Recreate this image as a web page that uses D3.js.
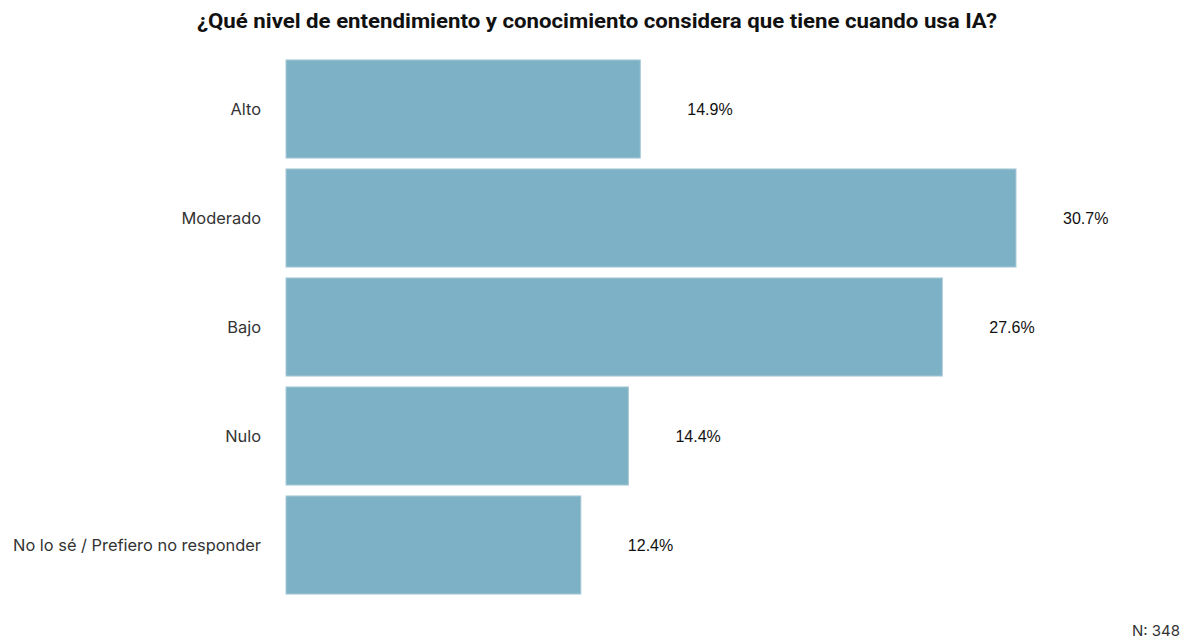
<!DOCTYPE html>
<html>
<head>
<meta charset="utf-8">
<script src="https://cdn.jsdelivr.net/npm/d3@7"></script>
<style>
  body { margin: 0; background: #fff; }
  svg { display: block; }
</style>
</head>
<body>
<div id="chart"></div>
<script>
const categories = ["Alto", "Moderado", "Bajo", "Nulo", "No lo sé / Prefiero no responder"];
const values = [14.9, 30.7, 27.6, 14.4, 12.4];
const sampleSize = 348;

const width = 1186;
const height = 640;

const svg = d3.select("#chart")
  .append("svg")
  .attr("width", width)
  .attr("height", height);

const x = d3.scaleLinear().domain([0, 30.7]).range([286, 1016]);
const y = d3.scaleBand()
  .domain(categories)
  .range([54.5, 599.5])
  .paddingInner(0.1)
  .paddingOuter(0.05);

svg.append("text")
  .attr("x", 597)
  .attr("y", 28)
  .attr("text-anchor", "middle")
  .attr("textLength", 800)
  .attr("lengthAdjust", "spacingAndGlyphs")
  .style("font-family", "Roboto, sans-serif")
  .style("font-weight", "bold")
  .style("font-size", "21px")
  .style("fill", "#111")
  .text("¿Qué nivel de entendimiento y conocimiento considera que tiene cuando usa IA?");

svg.selectAll("rect")
  .data(values)
  .enter()
  .append("rect")
  .attr("x", x(0))
  .attr("y", (d, i) => y(categories[i]))
  .attr("width", (d) => x(d) - x(0))
  .attr("height", y.bandwidth())
  .attr("fill", "#7db1c6")
  .attr("stroke", "#a9cbd8")
  .attr("stroke-width", 1);

svg.selectAll(".cat")
  .data(categories)
  .enter()
  .append("text")
  .attr("class", "cat")
  .attr("x", 261)
  .attr("y", (d) => y(d) + y.bandwidth() / 2)
  .attr("dy", "0.35em")
  .attr("text-anchor", "end")
  .style("font-family", "Inter, sans-serif")
  .style("font-size", "16.4px")
  .style("fill", "#333")
  .text((d) => d);

svg.selectAll(".val")
  .data(values)
  .enter()
  .append("text")
  .attr("class", "val")
  .attr("x", (d) => x(d) + 47)
  .attr("y", (d, i) => y(categories[i]) + y.bandwidth() / 2)
  .attr("dy", "0.35em")
  .style("font-family", "'Liberation Sans', sans-serif")
  .style("font-size", "16px")
  .style("fill", "#111")
  .text((d) => d.toFixed(1) + "%");

svg.append("text")
  .attr("x", 1180)
  .attr("y", 636)
  .attr("text-anchor", "end")
  .style("font-family", "Inter, sans-serif")
  .style("font-size", "15px")
  .style("fill", "#333")
  .text("N: " + sampleSize);
</script>
</body>
</html>
